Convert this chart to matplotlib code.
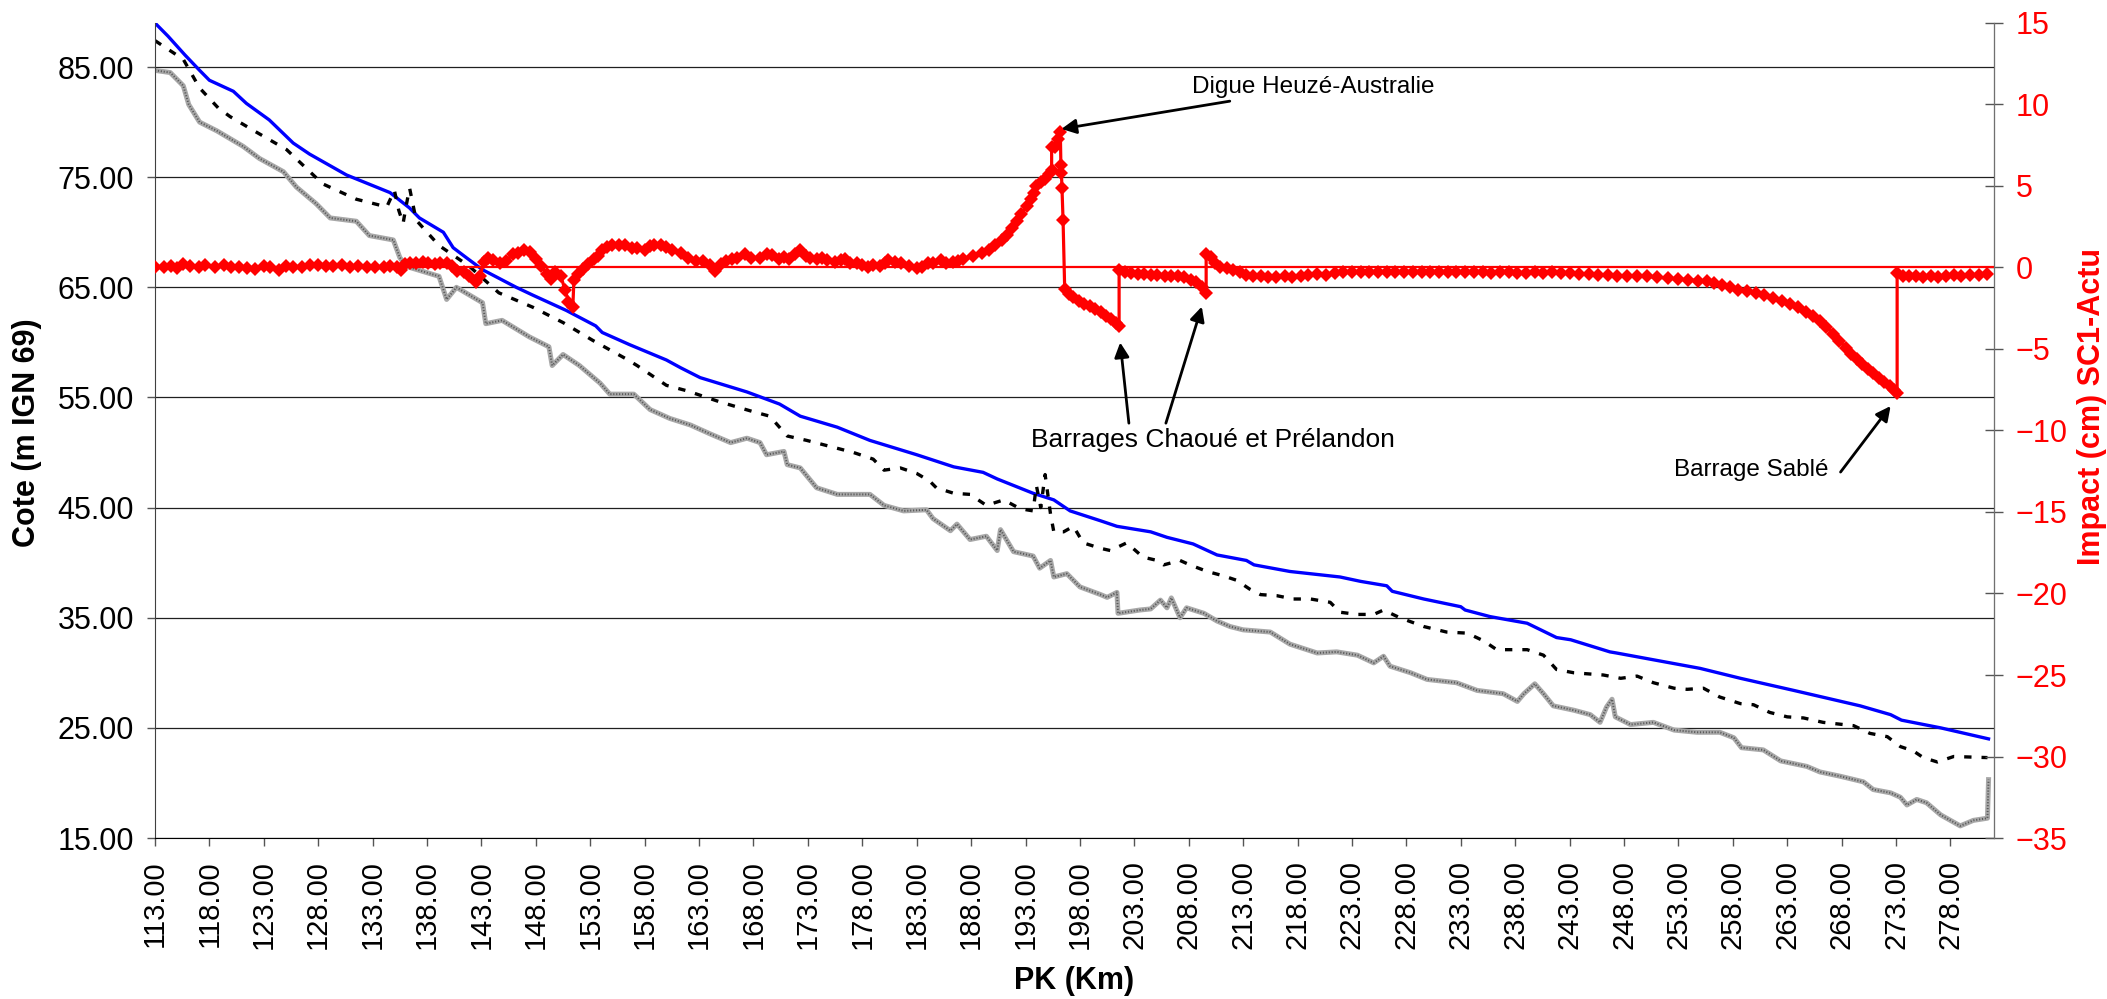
import matplotlib
matplotlib.use("Agg")
import matplotlib.pyplot as plt
from matplotlib.ticker import FormatStrFormatter

plt.rcParams['font.family'] = ['Liberation Sans', 'DejaVu Sans']

# Ligne d'eau (bleu)
pk_eau = [113.0, 114.2, 115.75, 117.1, 118.0, 120.2, 121.4, 123.5, 125.7, 127.2,
          130.6, 134.6, 136.4, 137.3, 139.5, 140.4, 141.6, 143.1, 146.2, 147.7,
          150.8, 153.5, 154.1, 156.6, 160.0, 161.3, 163.1, 167.4, 170.4, 172.3,
          175.7, 178.7, 183.0, 186.4, 189.1, 190.4, 193.7, 195.6, 197.1, 199.9,
          201.4, 204.5, 206.0, 208.4, 210.6, 213.3, 214.0, 217.3, 221.9, 223.8,
          226.2, 226.7, 229.6, 233.0, 233.4, 235.7, 239.1, 241.8, 243.1, 246.7,
          247.3, 255.0, 258.7, 263.6, 269.7, 272.5, 273.5, 277.1, 281.5]
z_eau = [89.0, 87.8, 86.1, 84.7, 83.8, 82.8, 81.7, 80.2, 78.1, 77.1,
         75.2, 73.6, 72.2, 71.3, 70.0, 68.6, 67.7, 66.6, 65.0, 64.3,
         62.9, 61.5, 60.9, 59.8, 58.4, 57.7, 56.8, 55.5, 54.4, 53.3,
         52.3, 51.1, 49.8, 48.7, 48.2, 47.6, 46.3, 45.7, 44.7, 43.8,
         43.3, 42.8, 42.3, 41.7, 40.7, 40.2, 39.8, 39.2, 38.7, 38.3,
         37.9, 37.4, 36.7, 36.0, 35.7, 35.1, 34.5, 33.2, 33.0, 31.9,
         31.8, 30.4, 29.5, 28.4, 27.0, 26.2, 25.7, 25.0, 24.0]

# Ligne pointillee noire
pk_pt = [113.0, 115.6, 117.1, 118.8, 119.9, 122.3, 125.1, 128.4, 131.5, 134.3,
         135.0, 135.4, 135.8, 136.1, 136.4, 137.0, 139.1, 141.9, 144.6, 147.7,
         150.5, 153.2, 156.3, 157.3, 160.0, 161.9, 164.9, 168.0, 169.5, 171.1,
         172.9, 177.2, 179.0, 180.0, 181.5, 183.0, 184.2, 184.8, 186.4, 187.9,
         189.4, 191.0, 192.5, 193.7, 194.0, 194.4, 194.8, 195.3, 195.6, 196.5,
         197.4, 198.3, 199.9, 200.8, 202.3, 203.8, 205.1, 205.7, 207.2, 208.1,
         209.7, 211.2, 212.4, 213.6, 214.6, 216.1, 217.6, 219.2, 221.0, 221.9,
         223.5, 225.0, 225.9, 227.4, 229.6, 231.7, 233.6, 235.1, 236.3, 239.1,
         240.6, 241.8, 243.4, 246.1, 247.7, 249.2, 250.7, 252.6, 253.8, 255.3,
         256.8, 258.7, 259.9, 261.4, 263.0, 264.5, 266.3, 269.1, 270.6, 272.2,
         273.4, 274.6, 275.5, 276.8, 278.3, 281.4]
z_pt = [87.4, 85.7, 83.1, 81.3, 80.5, 79.1, 77.5, 74.4, 73.0, 72.3,
        73.8, 72.0, 70.8, 72.5, 74.0, 71.1, 68.8, 66.9, 64.5, 63.2,
        61.8, 60.2, 58.5, 57.9, 56.1, 55.6, 54.6, 53.7, 53.3, 51.5,
        51.1, 50.0, 49.4, 48.4, 48.6, 48.1, 47.4, 46.8, 46.3, 46.2,
        45.2, 45.7, 44.9, 44.7, 47.0, 45.0, 48.0, 44.4, 42.8, 42.8,
        43.3, 41.8, 41.3, 41.1, 41.8, 40.5, 40.2, 39.8, 40.2, 39.8,
        39.2, 38.8, 38.4, 37.6, 37.1, 37.0, 36.7, 36.7, 36.4, 35.5,
        35.3, 35.3, 35.7, 35.0, 34.2, 33.7, 33.6, 32.9, 32.1, 32.1,
        31.6, 30.3, 30.0, 29.8, 29.5, 29.7, 29.1, 28.6, 28.5, 28.6,
        27.8, 27.2, 27.1, 26.4, 26.0, 25.9, 25.5, 25.2, 24.5, 24.2,
        23.3, 22.9, 22.3, 21.9, 22.4, 22.3]

# Fond du lit (gris)
pk_fond = [113.0, 114.4, 115.6, 116.1, 117.1, 118.7, 121.1, 122.6, 124.8, 126.0,
           127.8, 129.1, 131.5, 132.7, 134.9, 135.5, 136.1, 139.1, 139.8, 140.7,
           143.1, 143.4, 144.9, 147.4, 149.2, 149.5, 150.5, 152.0, 153.9, 154.8,
           157.0, 158.5, 160.3, 162.2, 164.0, 165.9, 167.4, 168.6, 169.2, 170.8,
           171.1, 172.3, 173.8, 175.7, 178.7, 180.0, 181.8, 183.9, 184.5, 186.1,
           186.7, 187.9, 189.4, 190.4, 190.7, 191.9, 193.7, 194.3, 195.3, 195.6,
           196.8, 198.0, 199.9, 200.5, 201.4, 201.5, 203.5, 204.5, 205.4, 206.0,
           206.4, 207.2, 207.8, 209.4, 210.6, 211.8, 213.0, 215.5, 217.3, 219.8,
           221.6, 223.5, 225.0, 225.9, 226.5, 228.4, 229.9, 232.6, 234.5, 236.9,
           238.2, 238.8, 239.8, 240.6, 241.5, 243.4, 244.9, 245.8, 246.4, 246.9,
           247.2, 248.6, 250.7, 252.6, 254.7, 256.8, 258.1, 258.8, 260.8, 262.4,
           264.8, 266.0, 267.9, 270.0, 270.9, 272.5, 273.4, 274.0, 274.9, 275.8,
           277.1, 278.9, 280.1, 281.4, 281.5]
z_fond = [84.7, 84.5, 83.3, 81.6, 80.0, 79.2, 77.8, 76.7, 75.5, 74.1,
          72.6, 71.3, 71.0, 69.7, 69.3, 67.7, 66.9, 66.0, 63.9, 65.0,
          63.6, 61.7, 62.0, 60.5, 59.6, 57.9, 58.9, 57.9, 56.3, 55.3,
          55.3, 53.9, 53.1, 52.5, 51.7, 50.9, 51.3, 50.9, 49.8, 50.1,
          48.9, 48.6, 46.8, 46.2, 46.2, 45.2, 44.7, 44.8, 44.0, 42.9,
          43.5, 42.1, 42.4, 41.1, 43.0, 41.0, 40.6, 39.5, 40.2, 38.7,
          39.0, 37.8, 37.1, 36.85, 37.3, 35.4, 35.7, 35.8, 36.6, 35.9,
          36.8, 35.0, 35.9, 35.4, 34.7, 34.2, 33.9, 33.7, 32.6, 31.8,
          31.9, 31.6, 30.9, 31.5, 30.6, 30.0, 29.4, 29.1, 28.4, 28.1,
          27.4, 28.1, 29.0, 28.1, 27.0, 26.6, 26.2, 25.5, 26.9, 27.6,
          26.0, 25.3, 25.5, 24.8, 24.6, 24.6, 24.1, 23.2, 23.0, 22.0,
          21.5, 21.0, 20.6, 20.1, 19.4, 19.1, 18.7, 18.0, 18.5, 18.2,
          17.1, 16.1, 16.6, 16.8, 20.3]

# Impact SC1 - Actu (cm, axe de droite)
pk_imp = [113.0, 113.8, 114.5, 115.0, 115.6, 116.2, 117.0, 117.6, 118.5, 119.3,
          120.0, 120.7, 121.5, 122.2, 123.0, 123.6, 124.4, 125.0, 125.7, 126.5,
          127.2, 128.0, 128.7, 129.4, 130.2, 130.9, 131.7, 132.5, 133.2, 134.0,
          134.6, 135.2, 135.6, 136.0, 136.4, 137.0, 137.6, 138.1, 138.7, 139.2,
          139.8, 140.3, 140.8, 141.4, 141.9, 142.5, 142.9, 143.2, 143.6, 144.1,
          144.7, 145.3, 145.9, 146.4, 146.9, 147.5, 148.0, 148.5, 149.0, 149.4,
          149.8, 150.3, 150.7, 151.0, 151.4, 151.5, 151.9, 152.3, 152.8, 153.3,
          153.7, 154.1, 154.5, 155.0, 155.6, 156.2, 156.8, 157.3, 158.0, 158.5,
          158.9, 159.5, 160.0, 160.5, 161.3, 162.0, 162.7, 163.4, 164.0, 164.5,
          165.0, 165.5, 166.0, 166.5, 167.2, 167.8, 168.6, 169.2, 169.7, 170.3,
          170.8, 171.3, 171.8, 172.3, 172.8, 173.2, 173.8, 174.3, 174.8, 175.5,
          176.0, 176.4, 176.9, 177.5, 178.0, 178.5, 179.0, 179.6, 180.1, 180.4,
          181.0, 181.6, 182.3, 183.0, 183.5, 184.0, 184.5, 185.2, 185.7, 186.3,
          186.8, 187.3, 188.2, 189.0, 189.6, 190.2, 190.8, 191.3, 191.8, 192.2,
          192.6, 193.1, 193.5, 193.8, 194.0, 194.4, 194.8, 195.2, 195.4, 195.4,
          195.7, 196.0, 196.2, 196.25, 196.3, 196.35, 196.45, 196.6, 197.0, 197.4,
          197.9, 198.4, 198.9, 199.4, 199.9, 200.4, 200.9, 201.3, 201.6, 201.6,
          202.1, 202.7, 203.3, 203.9, 204.5, 205.1, 205.8, 206.4, 207.0, 207.6,
          208.2, 208.7, 209.2, 209.6, 209.6, 210.0, 210.4, 210.9, 211.5, 212.1,
          212.7, 213.3, 213.9, 214.6, 215.3, 216.0, 216.8, 217.5, 218.3, 219.0,
          219.8, 220.6, 221.4, 222.2, 223.0, 223.8, 224.6, 225.4, 226.2, 227.0,
          227.8, 228.6, 229.4, 230.2, 231.0, 231.8, 232.6, 233.4, 234.2, 235.0,
          235.8, 236.6, 237.4, 238.2, 239.0, 239.8, 240.6, 241.4, 242.2, 243.0,
          243.9, 244.8, 245.6, 246.5, 247.4, 248.3, 249.2, 250.1, 251.0, 252.0,
          253.0, 253.9, 254.8, 255.6, 256.3, 257.0, 257.7, 258.5, 259.3, 260.1,
          260.9, 261.7, 262.5, 263.3, 264.0, 264.7, 265.4, 266.0, 266.6, 267.2,
          267.8, 268.4, 268.9, 269.4, 269.9, 270.4, 270.9, 271.4, 271.9, 272.4,
          272.8, 273.1, 273.1, 273.6, 274.2, 274.8, 275.5, 276.2, 276.9, 277.6,
          278.3, 279.0, 279.8, 280.6, 281.4]
d_imp = [0.0, 0.05, 0.1, -0.05, 0.2, 0.1, 0.05, 0.15, 0.05, 0.15,
         0.05, 0.0, -0.05, -0.1, 0.1, 0.0, -0.15, 0.1, 0.0, 0.05,
         0.15, 0.15, 0.1, 0.1, 0.15, 0.05, 0.1, 0.05, 0.0, 0.0,
         0.1, 0.0, -0.15, 0.2, 0.3, 0.25, 0.35, 0.3, 0.2, 0.3,
         0.25, 0.1, -0.2, -0.3, -0.55, -0.9, -0.5, 0.35, 0.6, 0.45,
         0.3, 0.4, 0.85, 0.9, 1.1, 0.95, 0.5, 0.1, -0.4, -0.7,
         -0.3, -0.55, -1.4, -2.1, -2.4, -0.75, -0.4, -0.1, 0.2, 0.55,
         0.7, 1.1, 1.25, 1.4, 1.35, 1.35, 1.2, 1.2, 1.1, 1.3,
         1.4, 1.35, 1.25, 1.1, 0.9, 0.6, 0.4, 0.4, 0.15, -0.2,
         0.2, 0.4, 0.5, 0.6, 0.85, 0.6, 0.6, 0.8, 0.75, 0.55,
         0.65, 0.5, 0.8, 1.1, 0.7, 0.6, 0.55, 0.6, 0.45, 0.35,
         0.45, 0.5, 0.3, 0.3, 0.15, 0.05, 0.15, 0.1, 0.25, 0.45,
         0.35, 0.3, 0.1, -0.05, 0.05, 0.25, 0.3, 0.45, 0.3, 0.35,
         0.4, 0.55, 0.7, 0.9, 1.1, 1.35, 1.7, 2.0, 2.4, 2.85,
         3.3, 3.8, 4.2, 4.6, 5.0, 5.25, 5.45, 5.75, 6.0, 7.4,
         7.4, 7.9, 8.3, 6.3, 5.8, 4.9, 2.9, -1.3, -1.6, -1.8,
         -2.05, -2.25, -2.35, -2.55, -2.75, -2.95, -3.15, -3.4, -3.6, -0.15,
         -0.3, -0.35, -0.4, -0.4, -0.45, -0.45, -0.5, -0.5, -0.55, -0.6,
         -0.75, -0.9, -1.2, -1.55, 0.85, 0.65, 0.3, 0.0, -0.05, -0.15,
         -0.3, -0.45, -0.5, -0.55, -0.6, -0.6, -0.55, -0.6, -0.5, -0.45,
         -0.4, -0.45, -0.35, -0.3, -0.3, -0.25, -0.25, -0.3, -0.25, -0.25,
         -0.25, -0.25, -0.25, -0.3, -0.25, -0.3, -0.3, -0.25, -0.3, -0.3,
         -0.35, -0.3, -0.3, -0.35, -0.35, -0.3, -0.35, -0.3, -0.35, -0.35,
         -0.4, -0.4, -0.45, -0.45, -0.5, -0.5, -0.55, -0.55, -0.6, -0.65,
         -0.7, -0.75, -0.8, -0.85, -0.95, -1.1, -1.2, -1.35, -1.45, -1.55,
         -1.7, -1.85, -2.05, -2.25, -2.45, -2.7, -3.0, -3.3, -3.65, -4.05,
         -4.5, -4.95, -5.3, -5.6, -5.9, -6.2, -6.5, -6.8, -7.05, -7.3,
         -7.5, -7.7, -0.35, -0.5, -0.55, -0.55, -0.6, -0.55, -0.6, -0.5,
         -0.45, -0.5, -0.45, -0.45, -0.4]

x_ticks = list(range(113, 279, 5))
cote_ticks = [15, 25, 35, 45, 55, 65, 75, 85]
impact_ticks = [-35, -30, -25, -20, -15, -10, -5, 0, 5, 10, 15]

fig = plt.figure(figsize=(21.07, 9.99), dpi=100)
ax = fig.add_axes([0.07356, 0.16116, 0.87280, 0.81582])
ax2 = ax.twinx()

# axe gauche : cotes
ax.plot(pk_fond, z_fond, color='#a8a8a8', lw=3.6)
ax.plot(pk_fond, z_fond, color='#5a5a5a', lw=1.4, linestyle=(0, (0.6, 0.9)))
ax.plot(pk_eau, z_eau, color='#0000ff', lw=2.4)
ax.plot(pk_pt, z_pt, color='black', lw=2.4, linestyle=(0, (2.2, 3.0)))

ax.set_xlim(113, 282)
ax.set_ylim(15, 89.0)
ax.set_xticks(x_ticks)
ax.set_yticks(cote_ticks)
ax.xaxis.set_major_formatter(FormatStrFormatter('%.2f'))
ax.yaxis.set_major_formatter(FormatStrFormatter('%.2f'))
ax.tick_params(axis='x', labelsize=21, rotation=90, direction='out', length=6,
               width=1, color='#555555', pad=10)
ax.tick_params(axis='y', labelsize=22, direction='out', length=6,
               width=1, color='#555555', pad=9)
ax.yaxis.grid(True, color='#202020', lw=0.9)
ax.set_axisbelow(True)

ax.set_xlabel('PK (Km)', fontsize=22, fontweight='bold')
ax.xaxis.set_label_coords(0.5, -0.157)
ax.set_ylabel('Cote (m IGN 69)', fontsize=22, fontweight='bold')
ax.yaxis.set_label_coords(-0.0614, 0.497)

ax.spines['top'].set_visible(False)
ax2.spines['top'].set_visible(False)
ax.spines['left'].set_color('#404040')
ax.spines['bottom'].set_color('black')
ax2.spines['right'].set_color('#707070')
ax2.spines['left'].set_visible(False)
ax2.spines['bottom'].set_visible(False)

# axe droit : impact
ax2.axhline(0, color='#ff0000', lw=1.6)
ax2.plot(pk_imp, d_imp, color='#ff0000', lw=2.3, marker='D', markersize=7,
         markeredgewidth=0)
ax2.set_ylim(-35, 15)
ax2.set_yticks(impact_ticks)
ax2.tick_params(axis='y', labelsize=22, labelcolor='#ff0000', direction='inout',
                length=13, width=1, color='#555555', pad=9)
ax2.set_ylabel('Impact (cm) SC1-Actu', fontsize=22, fontweight='bold',
               color='#ff0000')
ax2.yaxis.set_label_coords(1.0451, 0.53)

arrow = dict(arrowstyle='-|>', color='black', lw=2.0, mutation_scale=22,
             shrinkA=0, shrinkB=0)
ax2.annotate('Digue Heuzé-Australie', xy=(196.3, 8.5), xytext=(208.3, 11.05),
             fontsize=17.5, ha='left', va='center', arrowprops=arrow)
ax2.text(210.2, -10.6, 'Barrages Chaoué et Prélandon', fontsize=19,
         ha='center', va='center')
ax2.annotate('', xy=(201.7, -4.6), xytext=(202.5, -9.55), arrowprops=arrow)
ax2.annotate('', xy=(209.2, -2.4), xytext=(205.9, -9.55), arrowprops=arrow)
ax2.text(266.8, -12.4, 'Barrage Sablé', fontsize=17.5, ha='right', va='center')
ax2.annotate('', xy=(272.5, -8.5), xytext=(267.9, -12.55), arrowprops=arrow)

fig.savefig('out.png', dpi=100)
